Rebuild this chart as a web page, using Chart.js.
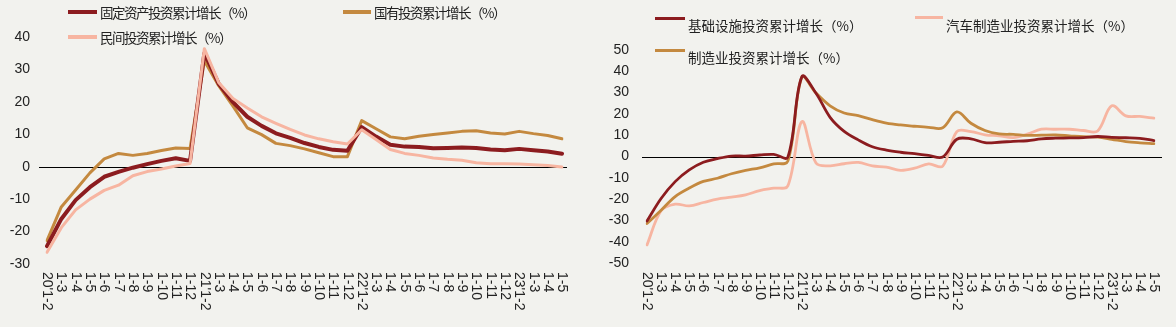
<!DOCTYPE html>
<html lang="zh">
<head>
<meta charset="utf-8">
<script src="https://cdn.jsdelivr.net/npm/chart.js@4.4.0/dist/chart.umd.min.js"></script>
<style>
  html, body { margin: 0; padding: 0; background: #f2f2ee; }
  body { width: 1176px; height: 327px; position: relative; overflow: hidden; }
  .box { position: absolute; top: 0; height: 327px; }
  #box-left { left: 0; width: 585px; }
  #box-right { left: 588px; width: 588px; }
  .lg { position: absolute; height: 20px; white-space: nowrap; color: #222; font-family: "Noto Sans CJK SC", sans-serif; }
  .lg i { position: absolute; left: 0; display: block; }
  .lg span { position: absolute; line-height: 20px; }
</style>
</head>
<body>
<div class="box" id="box-left"><canvas id="chartKiri" width="585" height="327"></canvas></div>
<div class="box" id="box-right"><canvas id="chartKanan" width="588" height="327"></canvas></div>
<div id="legenda"></div>
<script>
const bulan = ['1-3', '1-4', '1-5', '1-6', '1-7', '1-8', '1-9', '1-10', '1-11', '1-12'];
const labels = ["20'1-2", ...bulan, "21'1-2", ...bulan, "22'1-2", ...bulan, "23'1-2", '1-3', '1-4', '1-5'];

// left chart (%)
const namaKiri = ['固定资产投资累计增长（%）', '国有投资累计增长（%）', '民间投资累计增长（%）'];
const asetTetap = [-24.5, -16.1, -10.3, -6.3, -3.1, -1.6, -0.3, 0.8, 1.8, 2.6, 1.8,
    35.0, 25.6, 19.9, 15.4, 12.6, 10.3, 8.9, 7.3, 6.1, 5.2, 4.9,
    12.2, 9.3, 6.8, 6.2, 6.1, 5.7, 5.8, 5.9, 5.8, 5.3, 5.1,
    5.5, 5.1, 4.7, 4.0];
const bumn = [-22.8, -12.4, -7.2, -1.9, 2.4, 4.1, 3.5, 4.1, 5.0, 5.8, 5.6,
    32.7, 25.0, 18.7, 12.0, 9.9, 7.2, 6.5, 5.5, 4.3, 3.1, 3.1,
    14.2, 11.7, 9.2, 8.6, 9.4, 9.9, 10.4, 10.9, 11.1, 10.4, 10.1,
    10.9, 10.2, 9.6, 8.6];
const swasta = [-26.4, -18.8, -13.3, -10.0, -7.3, -5.7, -2.8, -1.5, -0.7, 0.2, 1.0,
    36.4, 26.0, 21.0, 18.1, 15.4, 13.4, 11.5, 9.8, 8.6, 7.7, 7.0,
    11.4, 8.4, 5.3, 4.1, 3.5, 2.7, 2.3, 2.0, 1.2, 0.9, 0.9,
    0.8, 0.6, 0.4, -0.1];
const ticksKiri = [-30, 40];

// right chart (%)
const namaKanan = ['基础设施投资累计增长（%）', '汽车制造业投资累计增长（%）', '制造业投资累计增长（%）'];
const infrastruktur = [-30.3, -19.7, -11.8, -6.3, -2.7, -1.0, 0.2, 0.2, 0.7, 1.0, -0.3,
    37.5, 29.7, 18.4, 11.8, 7.8, 4.6, 3.0, 2.0, 1.3, 0.5, -0.2,
    8.1, 8.3, 6.5, 6.7, 7.1, 7.4, 8.3, 8.6, 8.7, 8.9, 9.4,
    9.0, 8.8, 8.5, 7.5];
const otomotif = [-41.5, -25.5, -22.4, -23.2, -21.6, -20.0, -19.1, -18.0, -16.0, -14.9, -13.8,
    16.4, -3.1, -4.4, -3.4, -2.8, -4.4, -5.0, -6.5, -5.5, -3.5, -4.5,
    11.7, 11.7, 10.2, 9.7, 8.9, 10.5, 12.8, 12.8, 12.8, 12.2, 12.0,
    23.8, 19.1, 18.8, 18.0];
const manufaktur = [-31.5, -25.2, -18.8, -14.8, -11.7, -10.2, -8.1, -6.5, -5.3, -3.5, -2.2,
    37.3, 29.8, 23.8, 20.4, 19.2, 17.3, 15.7, 14.8, 14.2, 13.7, 13.5,
    20.9, 15.6, 12.2, 10.6, 10.4, 9.9, 10.0, 10.1, 9.7, 9.3, 9.1,
    8.1, 7.0, 6.4, 6.0];
const ticksKanan = [-50, 50];

const merah = '#8c1c1f', emas = '#c4893f', pink = '#f7b5a1';

// zero line + x labels rotated clockwise (chart.js only rotates the other way)
const sumbuTambahan = {
    id: 'sumbuTambahan',
    beforeDatasetsDraw(chart, args, opts) {
        const { ctx, chartArea, scales: { x, y } } = chart;
        const y0 = Math.round(y.getPixelForValue(0)) + 0.5;
        ctx.save();
        ctx.strokeStyle = '#000';
        ctx.lineWidth = 1;
        ctx.beginPath();
        ctx.moveTo(chartArea.left - opts.kiri, y0);
        ctx.lineTo(chartArea.right + opts.kanan, y0);
        ctx.stroke();
        ctx.fillStyle = '#222';
        ctx.font = '14px "Liberation Sans", Arial, sans-serif';
        ctx.textAlign = 'left';
        ctx.textBaseline = 'middle';
        chart.data.labels.forEach((lab, i) => {
            ctx.save();
            ctx.translate(x.getPixelForValue(i), opts.atas);
            ctx.rotate(Math.PI / 2);
            ctx.fillText(lab, 0, 0);
            ctx.restore();
        });
        ctx.restore();
    }
};

function garis(label, data, warna, tebal, urutan, tension) {
    return { label, data, borderColor: warna, backgroundColor: warna, borderWidth: tebal,
        pointRadius: 0, tension, order: urutan, borderJoinStyle: 'round', borderCapStyle: 'round' };
}

function buatChart(id, datasets, batas, lebarSumbu, padding, pad, ekstra) {
    return new Chart(document.getElementById(id), {
        type: 'line',
        data: { labels, datasets },
        options: {
            responsive: false, animation: false,
            layout: { padding },
            plugins: { legend: { display: false }, tooltip: { enabled: false }, sumbuTambahan: ekstra },
            scales: {
                x: { display: false, offset: false },
                y: {
                    min: batas[0], max: batas[1],
                    grid: { display: false, drawTicks: false },
                    border: { display: false },
                    ticks: { stepSize: 10, padding: pad, color: '#222', font: { size: 14, family: '"Liberation Sans", Arial, sans-serif' } },
                    afterFit(s) { s.width = lebarSumbu; }
                }
            }
        },
        plugins: [sumbuTambahan]
    });
}

buatChart('chartKiri', [
    garis(namaKiri[0], asetTetap, merah, 4, 1, 0),
    garis(namaKiri[1], bumn, emas, 3, 2, 0),
    garis(namaKiri[2], swasta, pink, 3, 0, 0)
], ticksKiri, 47, { top: 37, right: 23, bottom: 63, left: 0 }, 17, { kiri: 8, kanan: 5, atas: 272 });

buatChart('chartKanan', [
    garis(namaKanan[0], infrastruktur, merah, 2.8, 0, 0.35),
    garis(namaKanan[1], otomotif, pink, 2.8, 2, 0.35),
    garis(namaKanan[2], manufaktur, emas, 2.8, 1, 0.35)
], ticksKanan, 59, { top: 50, right: 22, bottom: 64, left: 0 }, 18, { kiri: 5, kanan: 8, atas: 272 });

// legends as html text
const legenda = [
    { teks: namaKiri[0], warna: merah, x: 68, y: 12, w: 29, h: 4, teksY: 12, fs: 13.5, ls: -1.5 },
    { teks: namaKiri[1], warna: emas, x: 343, y: 12, w: 28, h: 3.5, teksY: 12, fs: 13.5, ls: -1.5 },
    { teks: namaKiri[2], warna: pink, x: 68, y: 37, w: 29, h: 4, teksY: 37, fs: 13.5, ls: -1.5 },
    { teks: namaKanan[0], warna: merah, x: 655, y: 18, w: 30, h: 3, teksY: 25, fs: 13.5, ls: 0 },
    { teks: namaKanan[1], warna: pink, x: 915, y: 17, w: 28, h: 3, teksY: 25, fs: 13.5, ls: 0 },
    { teks: namaKanan[2], warna: emas, x: 655, y: 50, w: 30, h: 3, teksY: 57, fs: 13.5, ls: 0 }
];
const wadah = document.getElementById('legenda');
legenda.forEach(item => {
    let el = document.createElement('div');
    el.className = 'lg';
    el.style.left = item.x + 'px';
    el.style.top = '0px';
    el.innerHTML = `
        <i style="top:${item.y - item.h / 2}px;width:${item.w}px;height:${item.h}px;background:${item.warna}"></i>
        <span style="left:${item.w + 3}px;top:${item.teksY - 10}px;font-size:${item.fs}px;letter-spacing:${item.ls}px">${item.teks}</span>
    `;
    wadah.appendChild(el);
});
</script>
</body>
</html>
